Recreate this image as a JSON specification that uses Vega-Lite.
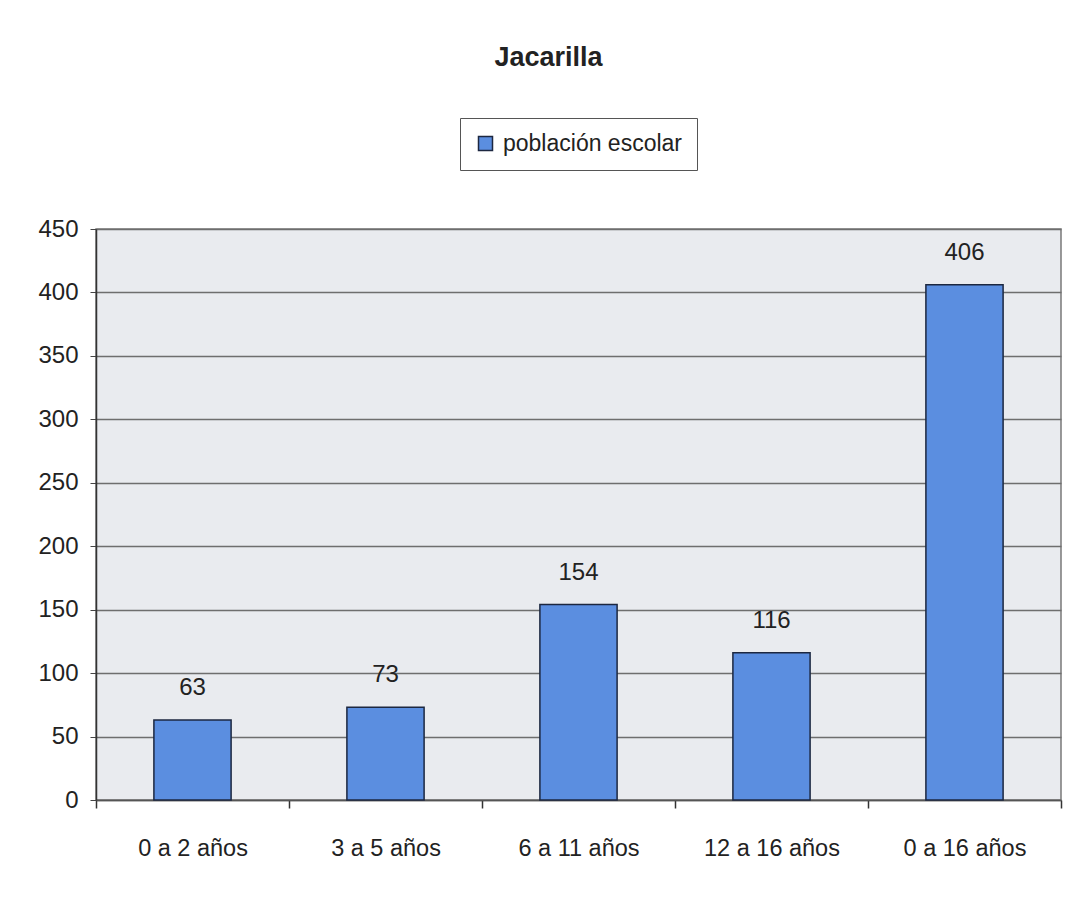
{
  "$schema": "https://vega.github.io/schema/vega-lite/v6.json",
  "width": 965,
  "height": 571,
  "autosize": "none",
  "padding": {"left": 96, "top": 229, "right": 7, "bottom": 102},
  "background": "#ffffff",
  "title": {
    "text": "Jacarilla",
    "font": "Liberation Sans",
    "fontSize": 27,
    "fontWeight": "bold",
    "color": "#222222",
    "anchor": "middle",
    "dx": -30,
    "offset": 46
  },
  "data": {
    "values": [
      {"grupo": "0 a 2 años", "valor": 63, "serie": "población escolar"},
      {"grupo": "3 a 5 años", "valor": 73, "serie": "población escolar"},
      {"grupo": "6 a 11 años", "valor": 154, "serie": "población escolar"},
      {"grupo": "12 a 16 años", "valor": 116, "serie": "población escolar"},
      {"grupo": "0 a 16 años", "valor": 406, "serie": "población escolar"}
    ]
  },
  "encoding": {
    "x": {
      "field": "grupo",
      "type": "nominal",
      "sort": null,
      "scale": {"paddingInner": 0, "paddingOuter": 0},
      "axis": {
        "title": null,
        "labelAngle": 0,
        "labelFont": "Liberation Sans",
        "labelFontSize": 23.5,
        "labelColor": "#222222",
        "labelPadding": 28,
        "tickBand": "extent",
        "tickSize": 8,
        "tickColor": "#333333",
        "tickWidth": 1.5,
        "domainColor": "#555555",
        "domainWidth": 1.5,
        "grid": false
      }
    },
    "y": {
      "field": "valor",
      "type": "quantitative",
      "scale": {"domain": [0, 450], "nice": false},
      "axis": {
        "title": null,
        "values": [0, 50, 100, 150, 200, 250, 300, 350, 400, 450],
        "labelFont": "Liberation Sans",
        "labelFontSize": 24,
        "labelColor": "#222222",
        "labelPadding": 12,
        "tickSize": 6,
        "tickColor": "#444444",
        "domainColor": "#333333",
        "domainWidth": 1.5,
        "grid": true,
        "gridColor": "#6e6e6e",
        "gridWidth": 1.5
      }
    }
  },
  "layer": [
    {
      "mark": {"type": "bar", "width": {"band": 0.4}, "stroke": "#1c2740", "strokeWidth": 1.5},
      "encoding": {
        "color": {
          "field": "serie",
          "type": "nominal",
          "scale": {"range": ["#5b8ee0"]},
          "legend": {
            "title": null,
            "orient": "none",
            "legendX": 364,
            "legendY": -111,
            "labelFont": "Liberation Sans",
            "labelFontSize": 23,
            "labelColor": "#222222",
            "labelLimit": 0,
            "labelOffset": 6,
            "symbolType": "square",
            "symbolSize": 196,
            "symbolStrokeColor": "#1c2740",
            "symbolStrokeWidth": 1.5,
            "strokeColor": "#555555",
            "padding": 14,
            "fillColor": "#ffffff"
          }
        }
      }
    },
    {
      "mark": {
        "type": "text",
        "baseline": "bottom",
        "dy": -20,
        "font": "Liberation Sans",
        "fontSize": 24,
        "color": "#222222"
      },
      "encoding": {
        "text": {"field": "valor", "type": "quantitative"}
      }
    }
  ],
  "config": {
    "view": {"fill": "#e9ebef", "stroke": "#7a7a7a", "strokeWidth": 1.5}
  }
}
